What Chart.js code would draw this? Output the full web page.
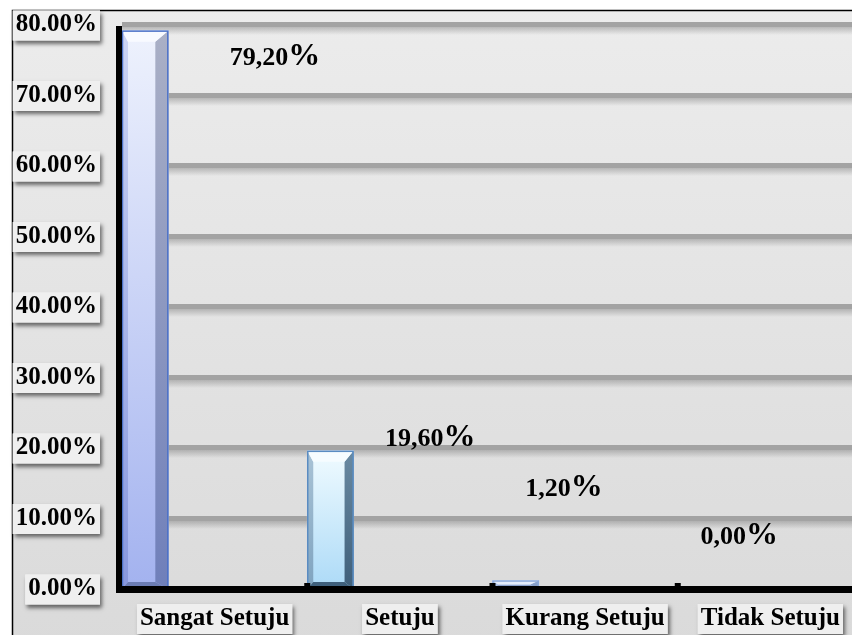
<!DOCTYPE html>
<html><head><meta charset="utf-8">
<style>
html,body{margin:0;padding:0;background:#fff;overflow:hidden}
#wrap{width:852px;height:635px;overflow:hidden;position:relative}
canvas{display:block}
</style>
<script src="https://cdn.jsdelivr.net/npm/chart.js@4/dist/chart.umd.min.js"></script>
</head><body>
<div id="wrap"><canvas id="c" width="870" height="650"></canvas></div>
<script>
// ---- data ----
const categories = ['Sangat Setuju', 'Setuju', 'Kurang Setuju', 'Tidak Setuju'];
const percentValues = [79.2, 19.6, 1.2, 0.0];
const yTickValues = [0, 10, 20, 30, 40, 50, 60, 70, 80];
const yMin = 0, yMax = 80;

// ---- styles (not data) ----
const FONT = "'Liberation Serif', 'Times New Roman', serif";
const barStyles = [
  {front:['#eef2fd','#a3b2ef'], left:['#ccd4f4','#8898de'], right:['#aab0c6','#6f7fba'], top:'#f8faff', bottom:'#6b7cb4', edge:'#4c72c7', br:13},
  {front:['#f0fbff','#acdaf7'], left:['#a9c3d6','#7fa3bf'], right:['#6a8aa2','#3f5f7a'], top:'#f6fcff', bottom:'#3f607c', edge:'#5a8cc2', br:9},
  {front:['#d6e3f8','#b6cbee'], left:['#b9cbea','#9fb6e0'], right:['#8ea6cf','#7f97c2'], top:'#e4ecfa', bottom:'#8a9fc8', edge:'#8aa8d8', br:9},
  {front:['#d6e3f8','#b6cbee'], left:['#b9cbea','#9fb6e0'], right:['#8ea6cf','#7f97c2'], top:'#e4ecfa', bottom:'#8a9fc8', edge:'#8aa8d8', br:9}
];
// label placement offsets relative to (category centre, value pixel): [dx of text start, dy of text centre]
const labelOffsets = [[15, 25], [-15, -14], [-60, -94], [-70, -54]];

const fmtLabel = v => v.toFixed(2).replace('.', ',');

const framePlugin = {
  id: 'frame',
  beforeDraw(chart) {
    const ctx = chart.ctx, W = chart.width, H = chart.height;
    ctx.save();
    ctx.fillStyle = '#ffffff';
    ctx.fillRect(0, 0, W, H);
    const g = ctx.createLinearGradient(0, 10, 0, H);
    g.addColorStop(0, '#ececec');
    g.addColorStop(1, '#dadada');
    ctx.fillStyle = g;
    ctx.fillRect(12, 10, W - 12, H - 10);
    ctx.strokeStyle = '#000';
    ctx.lineWidth = 1.5;
    ctx.beginPath();
    ctx.moveTo(12.5, H); ctx.lineTo(12.5, 10.5); ctx.lineTo(W, 10.5);
    ctx.stroke();
    // shadows behind tick label backdrops
    ['x', 'y'].forEach(id => {
      const sc = chart.scales[id];
      const items = sc.getLabelItems(chart.chartArea);
      items.forEach(it => {
        const b = it.options.backdrop;
        if (!b) return;
        const [tx, ty] = it.options.translation;
        ctx.save();
        ctx.shadowColor = 'rgba(0,0,0,0.55)';
        ctx.shadowBlur = 4;
        ctx.shadowOffsetX = 2;
        ctx.shadowOffsetY = 3;
        ctx.fillStyle = '#efefef';
        ctx.fillRect(tx + b.left, ty + b.top, b.width, b.height);
        ctx.restore();
      });
    });
    ctx.restore();
  },
  beforeDatasetsDraw(chart) {
    const ctx = chart.ctx, ca = chart.chartArea, y = chart.scales.y;
    ctx.save();
    yTickValues.forEach(v => {
      if (v === yMin) return;
      const py = Math.round(y.getPixelForValue(v));
      const sg = ctx.createLinearGradient(0, py + 2, 0, py + 10);
      sg.addColorStop(0, 'rgba(90,90,90,0.35)');
      sg.addColorStop(1, 'rgba(90,90,90,0)');
      ctx.fillStyle = sg;
      ctx.fillRect(ca.left, py + 2, chart.width - ca.left, 8);
      ctx.fillStyle = '#a3a3a3';
      ctx.fillRect(ca.left, py - 3, chart.width - ca.left, 5);
    });
    ctx.restore();
  },
  afterDatasetsDraw(chart) {
    const ctx = chart.ctx, ca = chart.chartArea;
    const meta = chart.getDatasetMeta(0);
    ctx.save();
    meta.data.forEach((el, i) => {
      const st = barStyles[i];
      const p = el.getProps(['x', 'y', 'width', 'base'], true);
      const L = p.x - p.width / 2, R = p.x + p.width / 2, T = p.y, B = p.base;
      const h = B - T;
      if (h <= 0.5) return;
      const bl = 6, br = st.br;
      const bt = Math.min(11, h / 2), bb = Math.min(7, h / 2);
      const vg = (c) => { const g = ctx.createLinearGradient(0, T, 0, B); g.addColorStop(0, c[0]); g.addColorStop(1, c[1]); return g; };
      ctx.fillStyle = vg(st.front);
      ctx.fillRect(L, T, R - L, h);
      const poly = (pts, fill) => {
        ctx.beginPath(); ctx.moveTo(pts[0][0], pts[0][1]);
        for (let k = 1; k < pts.length; k++) ctx.lineTo(pts[k][0], pts[k][1]);
        ctx.closePath(); ctx.fillStyle = fill; ctx.fill();
      };
      poly([[L, T], [L + bl, T + bt], [L + bl, B - bb], [L, B]], vg(st.left));
      poly([[R, T], [R - br, T + bt], [R - br, B - bb], [R, B]], vg(st.right));
      poly([[L, T], [R, T], [R - br, T + bt], [L + bl, T + bt]], st.top);
      poly([[L, B], [R, B], [R - br, B - bb], [L + bl, B - bb]], st.bottom);
      ctx.strokeStyle = st.edge;
      ctx.lineWidth = 1.5;
      ctx.strokeRect(L + 0.5, T + 0.5, R - L - 1, h);
    });
    // axes
    ctx.fillStyle = '#000';
    ctx.fillRect(ca.left - 6, ca.top + 1, 6, ca.bottom - ca.top + 3);
    ctx.fillRect(ca.left - 6, ca.bottom - 3, chart.width - ca.left + 6, 7);
    const x = chart.scales.x;
    for (let i = 1; i < categories.length; i++) {
      const px = (x.getPixelForValue(i - 1) + x.getPixelForValue(i)) / 2;
      ctx.fillRect(px - 3, ca.bottom - 6, 6, 4);
    }
    ctx.restore();
  },
  afterDraw(chart) {
    const ctx = chart.ctx, x = chart.scales.x, y = chart.scales.y;
    ctx.save();
    ctx.fillStyle = '#000';
    ctx.textBaseline = 'alphabetic';
    ctx.textAlign = 'left';
    percentValues.forEach((v, i) => {
      const cx = x.getPixelForValue(i), vy = y.getPixelForValue(v);
      const sx = cx + labelOffsets[i][0];
      const base = vy + labelOffsets[i][1] + 9;
      ctx.font = 'bold 26px ' + FONT;
      const num = fmtLabel(v);
      ctx.fillText(num, sx, base);
      const w = ctx.measureText(num).width;
      ctx.font = 'bold 32px ' + FONT;
      ctx.fillText('%', sx + w, base);
    });
    ctx.restore();
  }
};

new Chart(document.getElementById('c'), {
  type: 'bar',
  data: {
    labels: categories,
    datasets: [
      { label: 'Persentase', data: percentValues, backgroundColor: '#c8d2f4', borderWidth: 0 },
      { label: '', data: [], backgroundColor: 'transparent' },
      { label: '', data: [], backgroundColor: 'transparent' },
      { label: '', data: [], backgroundColor: 'transparent' }
    ]
  },
  options: {
    responsive: false,
    animation: false,
    devicePixelRatio: 1,
    categoryPercentage: 1,
    barPercentage: 1,
    layout: { padding: { left: 0, top: 25, right: 7, bottom: 0 } },
    plugins: { legend: { display: false }, tooltip: { enabled: false } },
    scales: {
      x: {
        type: 'category',
        offset: true,
        grid: { display: false, drawTicks: false },
        border: { display: false },
        ticks: {
          padding: 17, color: '#000', autoSkip: false, maxRotation: 0,
          font: { family: FONT, weight: 'bold', size: 25, lineHeight: 1 },
          showLabelBackdrop: true, backdropColor: '#efefef',
          backdropPadding: { top: 2, bottom: 3, left: 3, right: 3 }
        },
        afterFit: s => { s.height = 61; s.paddingLeft = 0; s.paddingRight = 0; }
      },
      y: {
        min: yMin, max: yMax,
        afterBuildTicks: s => { s.ticks = yTickValues.map(v => ({ value: v })); },
        grid: { display: false, drawTicks: false },
        border: { display: false },
        ticks: {
          padding: 25, color: '#000',
          font: { family: FONT, weight: 'bold', size: 25, lineHeight: 1 },
          callback: v => Number(v).toFixed(2) + '%',
          showLabelBackdrop: true, backdropColor: '#efefef',
          backdropPadding: { top: 2, bottom: 3, left: 3, right: 3 }
        },
        afterFit: s => { s.width = 122; s.paddingTop = 0; s.paddingBottom = 0; }
      }
    }
  },
  plugins: [framePlugin]
});
</script>
</body></html>
